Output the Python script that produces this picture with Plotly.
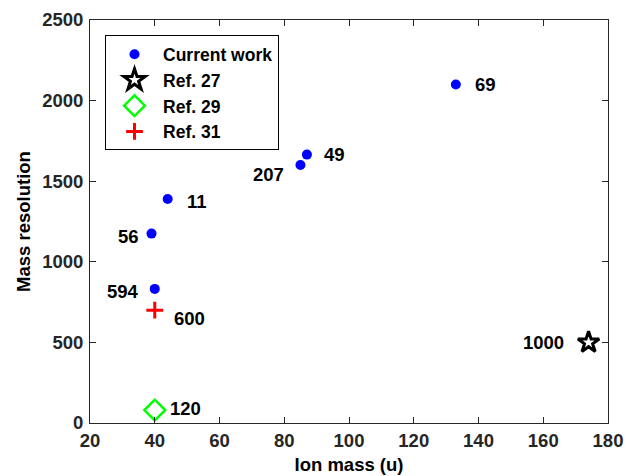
import plotly.graph_objects as go

# ---- data ----
cw_mass = [133, 87, 85, 44, 39, 40]
cw_res = [2100, 1665, 1600, 1390, 1175, 832]
cw_labels = ["69", "49", "207", "11", "56", "594"]

ref27_mass = [174]
ref27_res = [500]
ref27_labels = ["1000"]

ref29_mass = [40]
ref29_res = [80]
ref29_labels = ["120"]

ref31_mass = [40]
ref31_res = [700]
ref31_labels = ["600"]

x_ticks = [20, 40, 60, 80, 100, 120, 140, 160, 180]
y_ticks = [0, 500, 1000, 1500, 2000, 2500]

# label placement (pixel offsets, anchor) per label
label_style = {
    "69": (17, 0, "left"),
    "49": (15, 0, "left"),
    "207": (-14, -9, "right"),
    "11": (17, -3, "left"),
    "56": (-11, -3, "right"),
    "594": (-14, -3, "right"),
    "1000": (-23, 0, "right"),
    "120": (13, 2, "left"),
    "600": (17, -8, "left"),
}

FONT = "Liberation Sans, Arial, sans-serif"
AX = "#262626"
FS = 18.5
LFS = 17.5

fig = go.Figure()
fig.add_trace(go.Scatter(x=cw_mass, y=cw_res, mode="markers", name="Current work",
                         marker=dict(symbol="circle", size=10, color="#0000ff")))
fig.add_trace(go.Scatter(x=ref27_mass, y=ref27_res, mode="markers", name="Ref. 27",
                         marker=dict(symbol="star-open", size=16, color="black",
                                     line=dict(width=3, color="black"))))
fig.add_trace(go.Scatter(x=ref29_mass, y=ref29_res, mode="markers", name="Ref. 29",
                         marker=dict(symbol="diamond-open", size=16, color="#00ff00",
                                     line=dict(width=2.5, color="#00ff00"))))
fig.add_trace(go.Scatter(x=ref31_mass, y=ref31_res, mode="markers", name="Ref. 31",
                         marker=dict(symbol="cross-thin-open", size=12, color="#ff0000",
                                     line=dict(width=3, color="#ff0000"))))

for xs, ys, labs in [(cw_mass, cw_res, cw_labels), (ref27_mass, ref27_res, ref27_labels),
                     (ref29_mass, ref29_res, ref29_labels), (ref31_mass, ref31_res, ref31_labels)]:
    for x, y, t in zip(xs, ys, labs):
        dx, dy, anc = label_style[t]
        fig.add_annotation(x=x, y=y, text=t, showarrow=False, xanchor=anc, yanchor="middle",
                           xshift=dx, yshift=dy,
                           font=dict(family=FONT, size=FS, color="black", weight="bold"))

axis_common = dict(
    showline=True, linecolor=AX, linewidth=1, mirror="ticks",
    ticks="inside", ticklen=6, tickcolor=AX, tickwidth=1,
    showgrid=False, zeroline=False,
    tickfont=dict(family=FONT, size=FS, color=AX, weight="bold"),
)

fig.update_layout(
    width=636, height=476,
    margin=dict(l=82, r=36, t=11.5, b=60.5),
    paper_bgcolor="white", plot_bgcolor="white",
    showlegend=True,
    legend=dict(x=0.029, y=0.962, xanchor="left", yanchor="top",
                bordercolor="black", borderwidth=1, bgcolor="white",
                font=dict(family=FONT, size=LFS, color="black", weight="bold"),
                tracegroupgap=0, itemsizing="trace", itemwidth=47),
    xaxis=dict(range=[20, 180], tickvals=x_ticks, ticktext=[str(v) for v in x_ticks],
               automargin="bottom", ticklabelstandoff=1,
               title=dict(text="Ion mass (u)", standoff=7,
                          font=dict(family=FONT, size=FS, color="black", weight="bold")),
               **axis_common),
    yaxis=dict(range=[0, 2500], tickvals=y_ticks, ticktext=[str(v) for v in y_ticks],
               automargin="left", ticklabelstandoff=2,
               title=dict(text="Mass resolution", standoff=6,
                          font=dict(family=FONT, size=FS, color="black", weight="bold")),
               **axis_common),
)

fig.write_html("out.html")
